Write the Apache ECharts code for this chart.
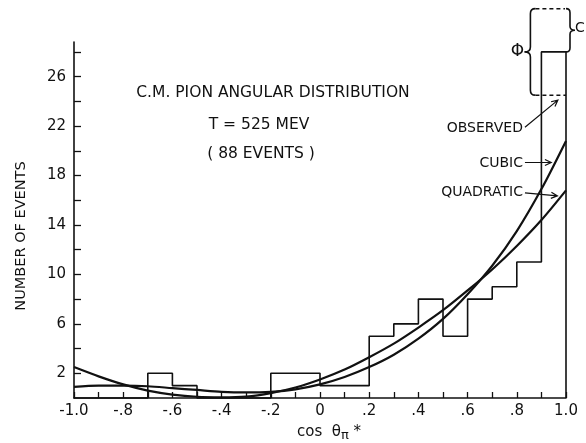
<!DOCTYPE html>
<html><head><meta charset="utf-8">
<script src="https://cdn.jsdelivr.net/npm/echarts@6/dist/echarts.min.js"></script>
<style>html,body{margin:0;padding:0;background:#fff}#c{width:586px;height:443px}</style>
</head><body><div id="c"></div>
<script>
// ---- data ----
const binEdges  = [-1.0,-0.9,-0.8,-0.7,-0.6,-0.5,-0.4,-0.3,-0.2,-0.1,0.0,0.1,0.2,0.3,0.4,0.5,0.6,0.7,0.8,0.9];
const binCounts = [0,0,0,2,1,0,0,0,2,2,1,1,5,6,8,5,8,9,11,28];
const binRightEnd = 1.0;
const lastBinObserved = 24.5;   // dashed "observed" level in last bin
const lastBinBraceTop = 31.5;   // top of the Φ / C braces
const curveX    = [-1.0,-0.9,-0.8,-0.7,-0.6,-0.5,-0.4,-0.3,-0.2,-0.1,0.0,0.1,0.2,0.3,0.4,0.5,0.6,0.7,0.8,0.9,1.0];
const quadratic = [2.5,1.75,1.1,0.6,0.28,0.1,0.06,0.12,0.4,0.85,1.5,2.3,3.3,4.4,5.7,7.1,8.7,10.4,12.3,14.4,16.8];
const cubic     = [0.9,1.0,1.0,0.95,0.8,0.65,0.5,0.45,0.5,0.7,1.1,1.7,2.5,3.5,4.8,6.4,8.4,10.7,13.5,16.9,20.8];
const xTickLabels = ['-1.0','-.8','-.6','-.4','-.2','0','.2','.4','.6','.8','1.0'];
const yTickValues = [2,4,6,8,10,12,14,16,18,20,22,24,26,28];
const yTickLabels = [2,6,10,14,18,22,26];

const FONT = 'DejaVu Sans';
const INK = '#111';

const histData = binEdges.map((e,i)=>[e, binCounts[i]]);
histData.push([binRightEnd, binCounts[binCounts.length-1]]);
histData.push([binRightEnd, 0]);

function brace(xb, yT, yB, ym, w, r, dir){
  // dir = -1: tip points left, +1: tip points right (pixel coords)
  const s = -dir;
  return 'M'+(xb+s*r)+' '+yT+' Q'+xb+' '+yT+' '+xb+' '+(yT+r)+
    ' L'+xb+' '+(ym-r)+' Q'+xb+' '+ym+' '+(xb+dir*w)+' '+ym+
    ' Q'+xb+' '+ym+' '+xb+' '+(ym+r)+
    ' L'+xb+' '+(yB-r)+' Q'+xb+' '+yB+' '+(xb+s*r)+' '+yB;
}
function arrow(p1, p2){
  const a = Math.atan2(p2[1]-p1[1], p2[0]-p1[0]);
  const L = 7, h = 0.45;
  const q1 = [p2[0]-L*Math.cos(a-h), p2[1]-L*Math.sin(a-h)];
  const q2 = [p2[0]-L*Math.cos(a+h), p2[1]-L*Math.sin(a+h)];
  return 'M'+p1[0]+' '+p1[1]+' L'+p2[0]+' '+p2[1]+' M'+q1[0]+' '+q1[1]+' L'+p2[0]+' '+p2[1]+' L'+q2[0]+' '+q2[1];
}
function label(text, p, align){
  return {type:'text', style:{text:text, x:p[0], y:p[1], fill:INK, font:'14px "'+FONT+'"',
    align:align, verticalAlign:'middle', textAlign:align, textVerticalAlign:'middle'}};
}

const chart = echarts.init(document.getElementById('c'), null, {renderer:'canvas'});
chart.setOption({
  animation:false,
  backgroundColor:'#fff',
  grid:{left:74, right:20, top:42, bottom:45, containLabel:false},
  xAxis:{type:'value', min:-1, max:1, interval:0.1,
    axisLine:{onZero:false, lineStyle:{color:INK, width:1.6}},
    axisTick:{inside:true, length:6, lineStyle:{color:INK, width:1.3}},
    axisLabel:{margin:6, color:INK, fontFamily:FONT, fontSize:15,
      formatter:function(v){const k=Math.round((v+1)*10); return k%2===0 ? xTickLabels[k/2] : '';}},
    splitLine:{show:false}},
  yAxis:{type:'value', min:0, max:28.8,
    axisLine:{show:true, onZero:false, lineStyle:{color:INK, width:1.6}},
    axisTick:{show:true, inside:true, length:7, customValues:yTickValues, lineStyle:{color:INK, width:1.3}},
    axisLabel:{margin:8, color:INK, fontFamily:FONT, fontSize:15, customValues:yTickLabels},
    splitLine:{show:false}},
  graphic:[
    {type:'text', x:273, y:93, style:{text:'C.M. PION ANGULAR DISTRIBUTION', fill:INK, font:'15.5px "'+FONT+'"', align:'center', verticalAlign:'middle', textAlign:'center', textVerticalAlign:'middle'}},
    {type:'text', x:259, y:125, style:{text:'T = 525 MEV', fill:INK, font:'15.5px "'+FONT+'"', align:'center', verticalAlign:'middle', textAlign:'center', textVerticalAlign:'middle'}},
    {type:'text', x:261, y:154, style:{text:'( 88 EVENTS )', fill:INK, font:'15.5px "'+FONT+'"', align:'center', verticalAlign:'middle', textAlign:'center', textVerticalAlign:'middle'}},
    {type:'text', x:21, y:236, rotation:Math.PI/2, style:{text:'NUMBER OF EVENTS', fill:INK, font:'14.5px "'+FONT+'"', align:'center', verticalAlign:'middle', textAlign:'center', textVerticalAlign:'middle'}},
    {type:'text', x:329, y:432, style:{text:'cos  θ{s|π} *', fill:INK, font:'15px "'+FONT+'"', align:'center', verticalAlign:'middle', textAlign:'center', textVerticalAlign:'middle',
      rich:{s:{fontFamily:FONT, fontSize:13, fill:INK, padding:[8,0,0,0]}}}}
  ],
  series:[
    {type:'line', name:'histogram', data:histData, step:'end', showSymbol:false, symbol:'none',
      lineStyle:{color:INK, width:1.6}, clip:false, z:3},
    {type:'line', name:'quadratic', data:curveX.map((x,i)=>[x, quadratic[i]]), smooth:0.3, showSymbol:false, symbol:'none',
      lineStyle:{color:INK, width:2.2}, z:4},
    {type:'line', name:'cubic', data:curveX.map((x,i)=>[x, cubic[i]]), smooth:0.3, showSymbol:false, symbol:'none',
      lineStyle:{color:INK, width:2.2}, z:4},
    {type:'custom', name:'annotations', clip:false, silent:true, z:5, data:[[0,0]],
      renderItem:function(params, api){
        const P = (x,y)=>api.coord([x,y]);
        const barL = P(binEdges[binEdges.length-1], 0)[0];
        const barR = P(binRightEnd, 0)[0];
        const yTop = P(0, lastBinBraceTop)[1];
        const yObs = P(0, lastBinObserved)[1];
        const yBar = P(0, binCounts[binCounts.length-1])[1];
        const xPhi = barL - 11, xC = barR + 4, r = 5;
        const ch = [];
        ch.push({type:'line', shape:{x1:xPhi+r, y1:yTop, x2:xC-r, y2:yTop}, style:{stroke:INK, lineWidth:1.5, lineDash:[4,3]}});
        ch.push({type:'line', shape:{x1:xPhi+r, y1:yObs, x2:barR, y2:yObs}, style:{stroke:INK, lineWidth:1.5, lineDash:[4,3]}});
        ch.push({type:'path', shape:{pathData:brace(xPhi, yTop, yObs, (yTop+yObs)/2, 6, r, -1)}, style:{stroke:INK, fill:'none', lineWidth:1.6}});
        ch.push({type:'path', shape:{pathData:brace(xC, yTop, yBar, (yTop+yBar)/2, 5, 4, 1)}, style:{stroke:INK, fill:'none', lineWidth:1.6}});
        ch.push({type:'text', style:{text:'Φ', x:xPhi-13, y:(yTop+yObs)/2, fill:INK, font:'17px "'+FONT+'"', align:'center', verticalAlign:'middle', textAlign:'center', textVerticalAlign:'middle'}});
        ch.push({type:'text', style:{text:'C', x:xC+10, y:(yTop+yBar)/2-2, fill:INK, font:'14px "'+FONT+'"', align:'center', verticalAlign:'middle', textAlign:'center', textVerticalAlign:'middle'}});
        const lx = 0.825;
        ch.push(label('OBSERVED', P(lx, 21.85), 'right'));
        ch.push(label('CUBIC', P(lx, 19.0), 'right'));
        ch.push(label('QUADRATIC', P(lx, 16.6), 'right'));
        const aS = (y)=>{const p=P(lx,y); return [p[0]+2,p[1]];};
        ch.push({type:'path', shape:{pathData:arrow(aS(21.9), P(0.967, 24.1))}, style:{stroke:INK, fill:'none', lineWidth:1.2}});
        ch.push({type:'path', shape:{pathData:arrow(aS(19.05), P(0.94, 19.05))}, style:{stroke:INK, fill:'none', lineWidth:1.2}});
        ch.push({type:'path', shape:{pathData:arrow(aS(16.6), P(0.965, 16.35))}, style:{stroke:INK, fill:'none', lineWidth:1.2}});
        return {type:'group', children:ch};
      }}
  ]
});
</script></body></html>
